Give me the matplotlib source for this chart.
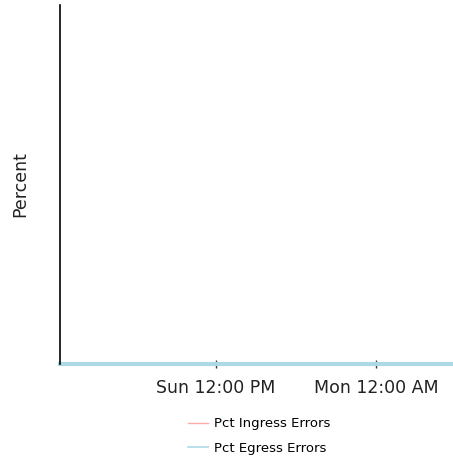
import matplotlib
matplotlib.use("Agg")
import matplotlib.pyplot as plt
import matplotlib.dates as mdates
import datetime as dt

# Data
start = dt.datetime(2023, 1, 1, 0, 18)   # a Sunday
times = [start + dt.timedelta(minutes=30 * i) for i in range(60)]
ingress = [0.0] * 60
egress = [0.0] * 60
series_names = ["Pct Ingress Errors", "Pct Egress Errors"]
tick_times = [dt.datetime(2023, 1, 1, 12, 0), dt.datetime(2023, 1, 2, 0, 0)]
tick_labels = ["Sun 12:00 PM", "Mon 12:00 AM"]

W, H = 453, 459
fig = plt.figure(figsize=(W / 100, H / 100), dpi=100)
ax = fig.add_axes([60 / W, (H - 364) / H, (W - 60) / W, (364 - 5) / H])

ax.plot(times, ingress, color="#ffaaaa", lw=1.2, label=series_names[0], clip_on=False)
ax.plot(times, egress, color="#add8e6", lw=3, label=series_names[1], clip_on=False)

xmin = mdates.date2num(start)
xmax = xmin + (W - 60) / 160 * 0.5
ax.set_xlim(xmin, xmax)
ax.set_ylim(0, 1)

ax.set_xticks(mdates.date2num(tick_times))
ax.set_xticklabels(tick_labels, fontsize=12.5, family="DejaVu Sans", color="#222222")
ax.set_yticks([])
ax.tick_params(axis="x", direction="inout", length=6, width=1, color="#333333", pad=8)

for s in ["top", "right", "bottom"]:
    ax.spines[s].set_visible(False)
ax.spines["left"].set_color("black")
ax.spines["left"].set_linewidth(1.2)

ax.set_ylabel("Percent", fontsize=12.5, family="DejaVu Sans", color="#222222", labelpad=22)

h = [plt.Line2D([], [], color="#ffaaaa", lw=1), plt.Line2D([], [], color="#add8e6", lw=1.2)]
leg = fig.legend(h, series_names, loc="center left", bbox_to_anchor=(176 / W, 1 - 436 / H),
                 frameon=False, prop={"family": "DejaVu Sans", "size": 9.5},
                 handlelength=1.5, handletextpad=0.5, labelspacing=0.85)

fig.savefig("out.png", dpi=100)
